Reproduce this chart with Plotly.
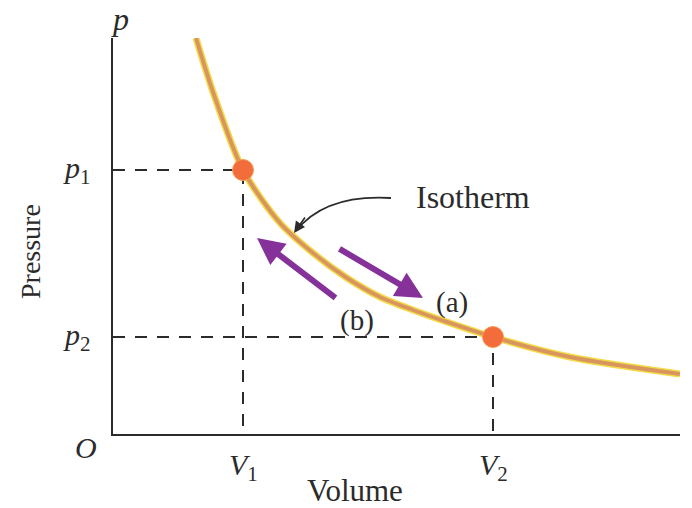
import plotly.graph_objects as go

# Isotherm (arbitrary units)
volume = [0.83, 1.00, 1.30, 1.67, 2.00, 2.34, 2.67, 3.00, 3.34, 3.80, 4.57, 5.67]
pressure = [3.96, 3.42, 2.64, 2.11, 1.81, 1.56, 1.37, 1.24, 1.12, 0.97, 0.77, 0.60]

# The two marked states on the isotherm
state_v = [1.30, 3.80]
state_p = [2.64, 0.97]
state_v_labels = ["<i>V</i><sub>1</sub>", "<i>V</i><sub>2</sub>"]
state_p_labels = ["<i>p</i><sub>1</sub>", "<i>p</i><sub>2</sub>"]

X_MAX, Y_MAX = 5.67, 3.96
SERIF = "Liberation Serif"
INK = "#2b2b2b"
PURPLE = "#86309a"

fig = go.Figure()

# Dashed guide lines from each state to both axes
for v, p in zip(state_v, state_p):
    fig.add_trace(go.Scatter(
        x=[0, v, v], y=[p, p, 0], mode="lines",
        line=dict(color=INK, width=2, dash="12px,10px"),
        hoverinfo="skip", showlegend=False))

# Isotherm: yellow halo under a tan stroke
fig.add_trace(go.Scatter(
    x=volume, y=pressure, mode="lines", line_shape="spline",
    line=dict(color="#f3dc4a", width=7, smoothing=0.8), hoverinfo="skip",
    showlegend=False, cliponaxis=False))
fig.add_trace(go.Scatter(
    x=volume, y=pressure, mode="lines", line_shape="spline",
    line=dict(color="#d9955e", width=4, smoothing=0.8), hoverinfo="skip",
    showlegend=False, cliponaxis=False))

# State points
fig.add_trace(go.Scatter(
    x=state_v, y=state_p, mode="markers",
    marker=dict(size=21, color="#f36c3c", line=dict(color="#f79a52", width=1)),
    hoverinfo="skip", showlegend=False, cliponaxis=False))


def px(v):
    return v / X_MAX


def py(p):
    return p / Y_MAX


annotations = []


def text(v, p, s, size=30, **kw):
    # labels may sit outside the axes, so place them in paper coordinates
    annotations.append(dict(x=px(v), y=py(p), xref="paper", yref="paper",
                            xanchor="center", yanchor="middle",
                            text=s, showarrow=False,
                            font=dict(family=SERIF, size=size, color=INK), **kw))


# Axis letters and state labels
text(0.07, 4.15, "<i>p</i>", size=32)
text(-0.27, -0.13, "<i>O</i>", size=30)
for v, lbl in zip(state_v, state_v_labels):
    text(v, -0.33, lbl, size=30)
for p, lbl in zip(state_p, state_p_labels):
    text(-0.36, p, lbl, size=30)
text(2.42, -0.56, "Volume", size=31)
text(-0.83, 1.82, "Pressure", size=28, textangle=-90)
text(3.60, 2.37, "Isotherm", size=32)
text(3.39, 1.31, "(a)", size=29)
text(2.44, 1.14, "(b)", size=29)

# Process arrows along the isotherm
annotations.append(dict(x=3.10, y=1.36, ax=2.25, ay=1.86, xref="x", yref="y",
                        axref="x", ayref="y", text="", showarrow=True,
                        arrowhead=2, arrowsize=0.9, arrowwidth=6, arrowcolor=PURPLE))
annotations.append(dict(x=1.44, y=1.96, ax=2.24, ay=1.35, xref="x", yref="y",
                        axref="x", ayref="y", text="", showarrow=True,
                        arrowhead=2, arrowsize=0.9, arrowwidth=6, arrowcolor=PURPLE))

# Pointer head for the isotherm callout
annotations.append(dict(x=1.81, y=2.01, ax=12, ay=-17, text="", showarrow=True,
                        arrowhead=2, arrowsize=1.4, arrowwidth=1.6, arrowcolor=INK))

fig.update_layout(
    width=692, height=508,
    margin=dict(l=113, r=12, t=38, b=74),
    paper_bgcolor="white", plot_bgcolor="white",
    annotations=annotations,
    shapes=[dict(type="path", xref="x", yref="y",
                 path="M 2.78 2.36 Q 2.12 2.40 1.83 2.03",
                 line=dict(color=INK, width=1.8))],
    xaxis=dict(range=[0, X_MAX], showgrid=False, zeroline=False,
               showticklabels=False, ticks="", showline=True,
               linecolor=INK, linewidth=2),
    yaxis=dict(range=[0, Y_MAX], showgrid=False, zeroline=False,
               showticklabels=False, ticks="", showline=True,
               linecolor=INK, linewidth=2),
)

fig.write_html("out.html")
